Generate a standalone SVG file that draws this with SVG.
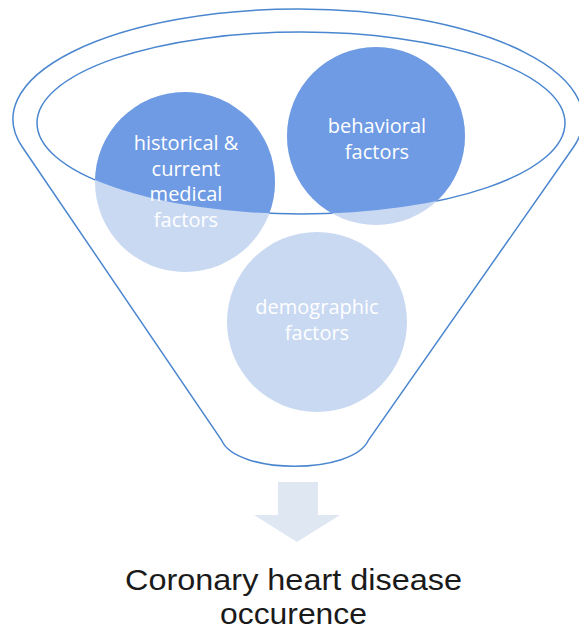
<svg xmlns="http://www.w3.org/2000/svg" width="579" height="633" viewBox="0 0 579 633">
  <style>
    .funnel { fill: #ffffff; stroke: #4a86cf; stroke-width: 1.5; }
    .rim { fill: none; stroke: #4a86cf; stroke-width: 1.5; }
    .light { fill: #c9d9f2; }
    .dark { fill: #6e9be3; }
    .lbl { font-family: "Open Sans", "Noto Sans", "DejaVu Sans", sans-serif; font-size: 20px; fill: #ffffff; text-anchor: middle; }
    .title { font-family: "Liberation Sans", Arial, sans-serif; font-size: 30px; fill: #1a1a1a; text-anchor: middle; }
    .arrow { fill: #dfe7f3; }
  </style>
  <defs>
    <clipPath id="rimClip">
      <ellipse cx="301" cy="123" rx="264" ry="91"/>
    </clipPath>
  </defs>

  <g id="funnel">
    <path class="funnel" d="M 22.3,147 L 221.5,440 C 236,475 353,475 368.5,440 L 573.1,147.7 A 285 110 0 1 0 22.3,147 Z"/>
    <ellipse class="rim" cx="301" cy="123" rx="264" ry="91"/>
  </g>

  <g id="node-medical">
    <circle class="light" cx="185" cy="182" r="90"/>
    <circle class="dark" cx="185" cy="182" r="90" clip-path="url(#rimClip)"/>
    <text class="lbl" x="186" y="150">historical &amp;</text>
    <text class="lbl" x="186" y="175.5">current</text>
    <text class="lbl" x="186" y="201">medical</text>
    <text class="lbl" x="186" y="226.5">factors</text>
  </g>

  <g id="node-behavioral">
    <circle class="light" cx="376" cy="136" r="89"/>
    <circle class="dark" cx="376" cy="136" r="89" clip-path="url(#rimClip)"/>
    <text class="lbl" x="377" y="133">behavioral</text>
    <text class="lbl" x="377" y="158.5">factors</text>
  </g>

  <g id="node-demographic">
    <circle class="light" cx="317" cy="322" r="90"/>
    <text class="lbl" x="317" y="314">demographic</text>
    <text class="lbl" x="317" y="339.5">factors</text>
  </g>

  <g id="connectors">
    <path class="arrow" d="M 278,482 L 318,482 L 318,515 L 340,515 L 297,542 L 254,515 L 278,515 Z"/>
  </g>

  <g id="node-outcome">
    <text class="title" x="293.5" y="589.5" textLength="337" lengthAdjust="spacingAndGlyphs">Coronary heart disease</text>
    <text class="title" x="293.5" y="623.5" textLength="147" lengthAdjust="spacingAndGlyphs">occurence</text>
  </g>
</svg>
